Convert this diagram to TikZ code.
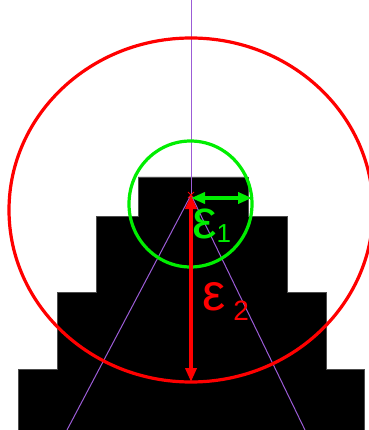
\documentclass[tikz,border=0pt]{standalone}
\usepackage{fontspec}
\setmainfont{Liberation Sans}
\usetikzlibrary{arrows.meta}
\definecolor{ray}{HTML}{9B5CD6}
\definecolor{epsred}{HTML}{FF0000}
\definecolor{epsgreen}{HTML}{00EE00}

\begin{document}
\begin{tikzpicture}[x=1pt,y=-1pt,
      stair/.style={fill=black,draw=black!70,line width=.6pt},
      ray/.style={draw=ray,line width=1pt},
      ring/.style={line width=3.2pt},
      dimarrow/.style={{Triangle[length=14pt,width=11pt]}-{Triangle[length=14pt,width=11pt]},line width=3.6pt},
      label/.style={inner sep=0pt,anchor=base west}]
      \useasboundingbox (0,0) rectangle (368,430);
      % stepped block
      \filldraw[stair] (18,431) |- (57,369) |- (96,292) |- (138,216) |- (248,177)
        |- (287,216) |- (326,292) |- (364,369) -- (364,431) -- cycle;
      \coordinate (c) at (191,195);
      \coordinate (top) at (191,0);
      \coordinate (bl) at (67,430);
      \coordinate (br) at (305,430);
      \coordinate (e1) at (252,198);
      \coordinate (e2) at (191,382);
      % rays
      \draw[ray] (top)--(c);
      \draw[ray] (c)--(bl); \draw[ray] (c)--(br);
      % circles
      \draw[ring,epsred] (191,210) ellipse [x radius=182,y radius=172];
      \draw[ring,epsgreen] (190.5,204) ellipse [x radius=61.5,y radius=63];
      \draw[epsred,line width=.8pt] (188,192)--(194,198) (188,198)--(194,192);
      % radii
      \draw[dimarrow,epsgreen] (191,198)--(e1);
      \draw[dimarrow,epsred] (c)--(e2);
      \node[label,text=epsgreen] (eps1) at (192,238) {\fontsize{55}{55}\selectfont ε\raisebox{-4pt}{\fontsize{26}{26}\selectfont 1}};
      \node[label,text=epsred] (eps2) at (202,310) {\fontsize{52}{52}\selectfont ε\hspace{8pt}\raisebox{-10pt}{\fontsize{28}{28}\selectfont 2}};
    \end{tikzpicture}
\end{document}
